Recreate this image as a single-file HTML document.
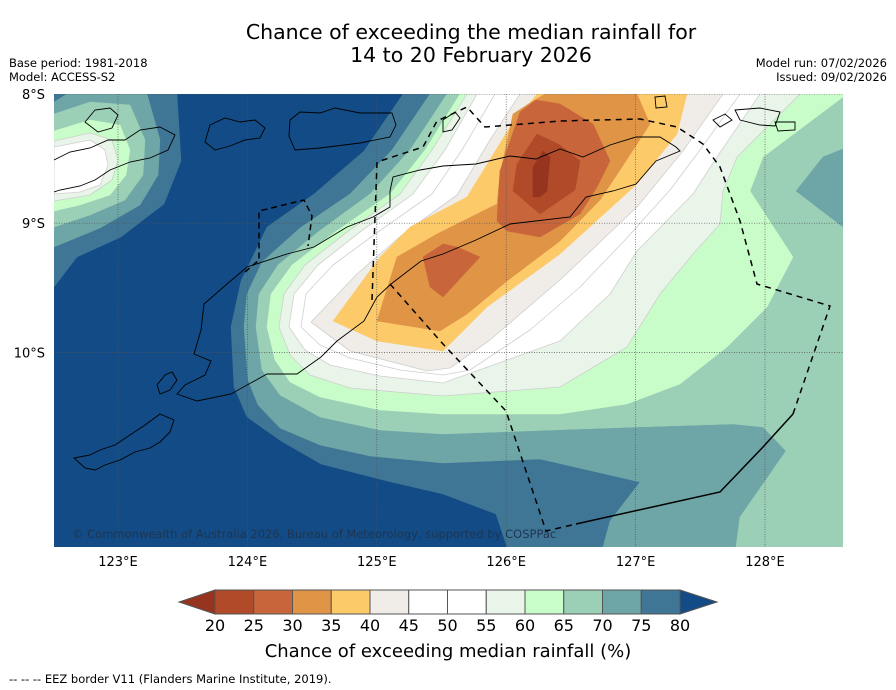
<!DOCTYPE html>
<html><head><meta charset="utf-8">
<style>
body{margin:0;background:#fff;}
#wrap{position:relative;width:896px;height:690px;overflow:hidden;font-family:"DejaVu Sans","Liberation Sans",sans-serif;}
svg text{font-family:"DejaVu Sans","Liberation Sans",sans-serif;}
</style></head>
<body>
<div id="wrap">
<svg id="svg" width="896" height="690" viewBox="0 0 896 690" xmlns="http://www.w3.org/2000/svg">
<text x="471" y="39" font-size="20.5" text-anchor="middle" fill="#000">Chance of exceeding the median rainfall for</text>
<text x="471" y="62" font-size="20.5" text-anchor="middle" fill="#000">14 to 20 February 2026</text>
<text x="9" y="67" font-size="11.5">Base period: 1981-2018</text>
<text x="9" y="81" font-size="11.5">Model: ACCESS-S2</text>
<text x="887" y="67" font-size="11.5" text-anchor="end">Model run: 07/02/2026</text>
<text x="887" y="81" font-size="11.5" text-anchor="end">Issued: 09/02/2026</text>
<defs><clipPath id="mapclip"><rect x="54" y="94" width="789" height="453"/></clipPath></defs>
<g id="map" clip-path="url(#mapclip)">
<rect x="54" y="94" width="789" height="453" fill="#124b85"/>
<g id="fills" stroke-linejoin="round"></g>
<g id="grid" stroke="#555" stroke-width="0.7" stroke-dasharray="1,1.5" fill="none"></g>
<g id="coast" fill="none" stroke="#000" stroke-width="0.9"></g>
<g id="eez" fill="none" stroke="#000" stroke-width="1.5"></g>
<text x="72" y="538" font-size="11.5" fill="#1e3550">© Commonwealth of Australia 2026, Bureau of Meteorology, supported by COSPPac</text>
</g>
<g id="axes"></g>
<g id="cbar"></g>
<text x="448" y="657" font-size="18" text-anchor="middle">Chance of exceeding median rainfall (%)</text>
<text x="9" y="683" font-size="11.5">--  --  -- EEZ border V11 (Flanders Marine Institute, 2019).</text>
</svg>
</div>
<script>
// Colorbar data
const levels = [20,25,30,35,40,45,50,55,60,65,70,75,80];
const binColors = ["#b04a28","#c8653a","#e09446","#fdca6a","#f0ece7","#ffffff","#ffffff","#eaf5ea","#c8fcc8","#9bcfb6","#6ea5a7","#3f7696"];
const underColor = "#963420";
const overColor = "#124b85";
// Axis ticks
const lonTicks = [123,124,125,126,127,128];
const latTicks = [8,9,10];

const NS = "http://www.w3.org/2000/svg";
function mk(tag, attrs, parent){const e=document.createElementNS(NS,tag);for(const k in attrs)e.setAttribute(k,attrs[k]);parent.appendChild(e);return e;}
const lonX = lon => 118 + (lon-123)*129.4;
const latY = lat => 94 + (lat-8)*129.2;

const contourRegions = [
 ["r80-main","#3f7696","403,94 364,151 314,194 267,227 241,281 231,327 234,387 247,417 281,441 321,464 387,481 443,494 496,514 507,547 843,547 843,94"],
 ["r80-ul","#3f7696","54,94 177,94 181,161 164,204 121,237 77,257 54,287"],
 ["r75-main","#6ea5a7","430,94 392,150 350,194 300,228 262,262 247,294 244,327 248,380 258,405 280,428 320,445 370,456 443,463 540,459 640,482 610,521 603,547 843,547 843,94"],
 ["r75-ul","#6ea5a7","54,102 67,94 147,94 160,140 158,175 140,205 100,228 54,247"],
 ["r70-main","#9bcfb6","447,94 410,150 370,194 318,232 278,265 259,294 256,327 262,370 280,395 320,417 380,430 443,434 636,427 733,424 763,427 786,451 740,517 736,547 843,547 843,94"],
 ["r75-island","#6ea5a7","843,149 823,157 796,191 843,227"],
 ["r70-ul","#9bcfb6","54,114 90,102 130,105 145,140 143,175 125,200 90,215 54,227"],
 ["r65-main","#c8fcc8","460,94 425,150 390,194 335,232 292,265 271,294 267,327 275,360 290,382 320,397 380,410 443,414 560,414 627,404 680,384 727,347 767,307 793,257 750,191 763,157 843,97 843,94"],
 ["r65-ul","#c8fcc8","54,131 90,120 120,125 130,150 126,175 110,195 80,205 54,211"],
 ["r60-main","#eaf5ea","467,94 432,150 400,194 347,232 305,265 284,294 279,327 290,355 310,375 350,388 443,396 560,387 627,347 660,294 693,254 720,224 723,191 737,157 800,94"],
 ["r60-ul","#eaf5ea","54,141 90,133 112,140 118,160 112,180 90,195 54,201"],
 ["r55-main","#ffffff","477,94 445,150 413,194 360,232 318,265 294,294 289,327 305,350 330,365 380,376 443,383 560,341 610,294 637,251 693,194 717,157 760,94"],
 ["r55-ul","#ffffff","54,147 90,140 105,150 108,165 100,185 80,192 54,194"],
 ["r50-main","#ffffff","495,94 462,150 432,194 378,232 333,265 306,294 301,327 320,345 350,358 400,370 443,375 470,370 530,330 580,287 625,240 670,190 700,150 740,94"],
 ["r45-main","#f0ece7","520,94 490,140 457,195 403,234 357,274 311,322 350,351 427,371 450,368 490,340 560,280 637,207 683,151 723,94"],
 ["r40-main","#fdca6a","537,94 510,127 467,197 410,227 380,257 333,321 377,341 443,351 487,307 560,254 637,184 677,134 687,94"],
 ["r35-main","#e09446","545,94 533,101 513,114 500,174 497,204 437,234 397,257 377,321 440,331 467,314 507,281 560,241 600,200 620,170 650,124 637,94"],
 ["r30-upper","#c8653a","520,112 536,100 560,104 593,124 610,161 597,187 580,214 540,237 507,231 497,221 500,171"],
 ["r30-lower","#c8653a","423,257 443,244 457,247 480,257 443,297 430,287"],
 ["r25-core","#b04a28","513,191 517,164 537,134 560,145 580,161 575,190 540,214"],
 ["r20-core","#963420","533,197 533,167 543,151 550,157 547,191 540,197"]
];
const fills = document.getElementById('fills');
for(const [name,col,pts] of contourRegions){
  const p = mk('polygon',{points:pts,fill:col},fills);
  const light = (col==="#ffffff"||col==="#f0ece7"||col==="#eaf5ea");
  p.setAttribute('stroke', light ? '#cfcfcf' : col);
  p.setAttribute('stroke-width', light ? '0.8' : '0.5');
  
  
}

const grid = document.getElementById('grid');
for(const lon of lonTicks){
  const l = mk('line',{x1:lonX(lon),x2:lonX(lon),y1:94,y2:547},grid);
  
  
}
for(const lat of latTicks){
  const l = mk('line',{x1:54,x2:843,y1:latY(lat),y2:latY(lat)},grid);
  
  
}

const coastPaths = [
 ["timor-coast","M177,394 L197,401 231,394 267,374 297,374 321,357 337,341 364,321 377,297 391,284 421,261 443,254 476,240 510,224 570,217 586,197 613,191 636,184 656,161 680,151 676,147 660,137 636,137 610,145 583,157 560,149 536,159 510,156 476,164 443,166 420,170 393,177 390,191 390,207 373,217 347,227 314,247 287,254 247,267 227,284 204,304 201,330 194,354 211,361 205,375 185,385 Z"],
 ["wetar-coast","M290,120 L300,112 320,113 335,108 360,113 392,113 396,125 390,137 360,143 320,148 295,150 289,136 Z"],
 ["alor-coast","M210,125 L225,118 240,122 255,120 265,128 260,138 245,140 230,146 215,150 205,142 Z"],
 ["flores-coast","M54,160 L70,152 90,148 108,140 125,140 140,130 160,127 175,135 168,150 150,158 130,162 110,170 95,180 80,186 60,190 54,192"],
 ["flores-coast-2","M85,122 L95,110 110,108 118,115 112,128 98,132 Z"],
 ["sumba-coast","M74,458 L90,455 100,450 115,445 130,435 145,425 160,414 174,420 170,432 160,442 150,448 135,452 120,460 105,465 95,470 85,468 Z"],
 ["rote-coast","M157,385 L165,375 172,372 177,380 170,390 160,394 Z"],
 ["small-islands","M655,97 L665,96 667,107 656,108 Z M713,120 L725,114 732,120 720,127 Z M735,110 L760,108 780,112 775,126 760,125 740,120 Z M775,122 L795,122 795,130 778,131 Z"],
 ["atauro-coast","M443,120 L455,112 460,118 452,130 443,132 Z"]
];
const coast = document.getElementById('coast');
for(const [name,d] of coastPaths){
  const p = mk('path',{d:d},coast);
  
  
}

const eezPaths = [
 ["eez-border-west","M245,272 L259,260 259,211 304,200 312,216 308,246","6,4"],
 ["eez-border-north","M372,300 L377,162 423,147 437,121 467,107 485,127 560,121 640,119 677,127 703,144 720,167 740,221 757,284 830,306 793,414","6,5"],
 ["eez-border-south","M390,284 L443,344 506,411 546,531 576,524","6,5"],
 ["eez-border-solid","M576,524 L720,492 763,447 793,414",""]
];
const eez = document.getElementById('eez');
for(const [name,d,dash] of eezPaths){
  const p = mk('path',{d:d},eez);
  if(dash) p.setAttribute('stroke-dasharray',dash);
  
  
}

const axes = document.getElementById('axes');
for(const lon of lonTicks){
  const t = mk('text',{x:lonX(lon),y:566,'font-size':13,'text-anchor':'middle'},axes);
  t.textContent = lon+'°E';
  
  
}
for(const lat of latTicks){
  const t = mk('text',{x:45,y:latY(lat)+5,'font-size':13,'text-anchor':'end'},axes);
  t.textContent = lat+'°S';
  
  
}

const cbar = document.getElementById('cbar');
const cbX0 = 215, cbX1 = 680, cbY = 590, cbH = 24;
const cbScale = v => cbX0 + (v-levels[0])/(levels[levels.length-1]-levels[0])*(cbX1-cbX0);
const under = mk('polygon',{points:`${cbX0},${cbY} 179,${cbY+cbH/2} ${cbX0},${cbY+cbH}`,fill:underColor,stroke:'#555','stroke-width':1},cbar);


const over = mk('polygon',{points:`${cbX1},${cbY} 717,${cbY+cbH/2} ${cbX1},${cbY+cbH}`,fill:overColor,stroke:'#555','stroke-width':1},cbar);


for(let i=0;i<binColors.length;i++){
  const x0 = cbScale(levels[i]), x1 = cbScale(levels[i+1]);
  const r = mk('rect',{x:x0,y:cbY,width:x1-x0,height:cbH,fill:binColors[i],stroke:'#555','stroke-width':1},cbar);
  
  
}
for(const v of levels){
  const t = mk('text',{x:cbScale(v),y:631,'font-size':16,'text-anchor':'middle'},cbar);
  t.textContent = v;
  
  
}
</script>
</body></html>
